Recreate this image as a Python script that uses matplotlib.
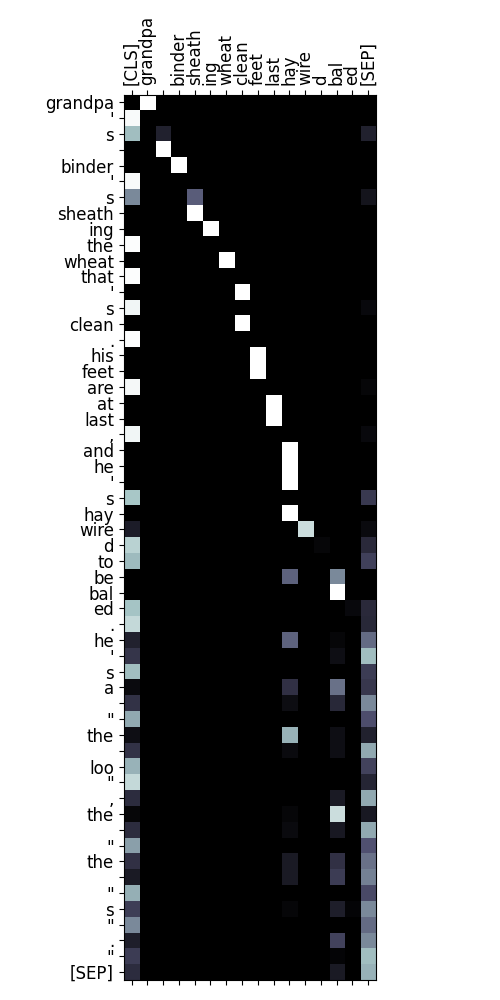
import numpy as np
import matplotlib
matplotlib.use("Agg")
import matplotlib.pyplot as plt

# source tokens (columns) and target tokens (rows)
col_tokens = ["[CLS]", "grandpa", "", "binder", "sheath", "ing", "wheat", "clean",
              "feet", "last", "hay", "wire", "d", "bal", "ed", "[SEP]"]
row_tokens = ["grandpa", "'", "s", "", "binder", "'", "s", "sheath", "ing", "the",
              "wheat", "that", "'", "s", "clean", ".", "his", "feet", "are", "at",
              "last", ",", "and", "he", "'", "s", "hay", "wire", "d", "to",
              "be", "bal", "ed", ".", "he", "'", "s", "a", "", '"',
              "the", "", "loo", '"', ",", "the", "", '"', "the", "",
              '"', "s", '"', ".", '"', "[SEP]"]

# nonzero attention weights per row: {column index: value}
row_weights = [
    {1: 1.0},
    {0: 0.98},
    {0: 0.72, 2: 0.15, 15: 0.15},
    {2: 1.0},
    {3: 1.0},
    {0: 0.98},
    {0: 0.55, 4: 0.40, 15: 0.09},
    {4: 1.0},
    {5: 1.0},
    {0: 0.99},
    {6: 1.0},
    {0: 0.99},
    {7: 1.0},
    {0: 0.96, 15: 0.04},
    {7: 1.0},
    {0: 0.99},
    {8: 1.0},
    {8: 1.0},
    {0: 0.97, 15: 0.03},
    {9: 1.0},
    {9: 1.0},
    {0: 0.96, 15: 0.04},
    {10: 1.0},
    {10: 1.0},
    {10: 1.0},
    {0: 0.75, 15: 0.26},
    {10: 1.0},
    {0: 0.13, 11: 0.85, 15: 0.05},
    {0: 0.80, 12: 0.03, 15: 0.19},
    {0: 0.71, 15: 0.29},
    {10: 0.42, 13: 0.55},
    {13: 1.0},
    {0: 0.74, 14: 0.04, 15: 0.19},
    {0: 0.83, 15: 0.18},
    {0: 0.15, 10: 0.42, 13: 0.03, 15: 0.45},
    {0: 0.24, 13: 0.07, 15: 0.72},
    {0: 0.72, 15: 0.27},
    {0: 0.05, 10: 0.22, 13: 0.47, 15: 0.25},
    {0: 0.23, 10: 0.06, 13: 0.18, 15: 0.55},
    {0: 0.65, 15: 0.35},
    {0: 0.07, 10: 0.68, 13: 0.07, 15: 0.15},
    {0: 0.23, 10: 0.05, 13: 0.07, 15: 0.65},
    {0: 0.68, 15: 0.30},
    {0: 0.83, 15: 0.17},
    {0: 0.20, 13: 0.12, 15: 0.65},
    {0: 0.03, 10: 0.03, 13: 0.85, 15: 0.11},
    {0: 0.20, 10: 0.05, 13: 0.11, 15: 0.65},
    {0: 0.62, 15: 0.36},
    {0: 0.22, 10: 0.12, 13: 0.22, 15: 0.47},
    {0: 0.12, 10: 0.12, 13: 0.27, 15: 0.52},
    {0: 0.67, 15: 0.33},
    {0: 0.28, 10: 0.03, 13: 0.14, 14: 0.02, 15: 0.55},
    {0: 0.55, 15: 0.45},
    {0: 0.14, 13: 0.30, 15: 0.55},
    {0: 0.27, 13: 0.02, 15: 0.72},
    {0: 0.20, 13: 0.12, 15: 0.68},
]

attn = np.zeros((len(row_tokens), len(col_tokens)))
for i, weights in enumerate(row_weights):
    for j, v in weights.items():
        attn[i, j] = v

fig = plt.figure(figsize=(5, 10), dpi=100)
ax = fig.add_axes([0.2476, 0.02, 0.5044, 0.8855])
ax.imshow(attn, cmap="bone", vmin=0, vmax=1, aspect="auto", interpolation="nearest")

ax.set_xticks(range(len(col_tokens)))
ax.set_xticklabels(col_tokens, rotation=90, fontsize=12)
ax.set_yticks(range(len(row_tokens)))
ax.set_yticklabels(row_tokens, fontsize=12)
ax.tick_params(top=True, labeltop=True, bottom=True, labelbottom=False)

fig.savefig("out.png", dpi=100)
